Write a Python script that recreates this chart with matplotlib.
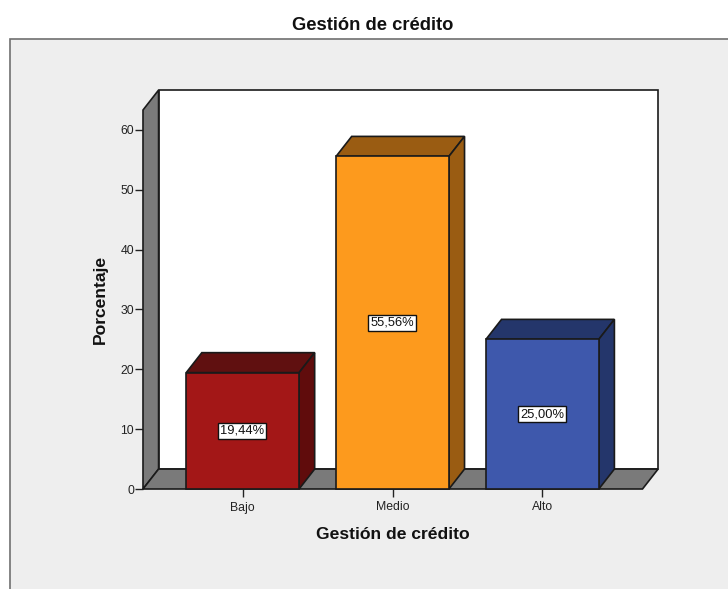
import matplotlib
matplotlib.use("Agg")
import matplotlib.pyplot as plt
from matplotlib.patches import Polygon, Rectangle

plt.rcParams["font.family"] = ["Liberation Sans", "DejaVu Sans"]

categories = ["Bajo", "Medio", "Alto"]
percentages = [19.44, 55.56, 25.00]
value_labels = ["19,44%", "55,56%", "25,00%"]
face_colors = ["#A31717", "#FD9A1D", "#3E58AC"]
top_colors = ["#601010", "#9A5C12", "#24366B"]
side_colors = ["#600C0C", "#9A5C12", "#24366B"]
y_ticks = [0, 10, 20, 30, 40, 50, 60]
title = "Gestión de crédito"
x_title = "Gestión de crédito"
y_title = "Porcentaje"

W, H = 728, 589
fig = plt.figure(figsize=(W / 100, H / 100), dpi=100, facecolor="white")

# Grey chart panel with a dark edge along its top and left sides
panel = Rectangle((9.5 / W, -0.1), 1, 1.1 - 39.5 / H, transform=fig.transFigure,
                  facecolor="#EEEEEE", edgecolor="#707070", linewidth=1.2, zorder=-1)
fig.add_artist(panel)
fig.text(373 / W, 1 - 25 / H, title, ha="center", va="center",
         fontsize=13.2, fontweight="bold", color="#111111")

# Axes span the front plane of the 3D box
left, right, bottom, top = 143, 642.5, 489, 110
ax = fig.add_axes([left / W, 1 - bottom / H, (right - left) / W, (bottom - top) / H])
ax.patch.set_visible(False)
ax.set_xlim(-0.665, 2.668)
ax.set_ylim(0, 63.3)
for spine in ax.spines.values():
    spine.set_visible(False)

# Depth of the box, expressed in data units
dx, dy = 0.104, 3.33
x0, x1 = ax.get_xlim()
y0, y1 = ax.get_ylim()
edge = "#1A1A1A"


def poly(points, color, z, lw=1.2):
    ax.add_patch(Polygon(points, closed=True, facecolor=color, edgecolor=edge,
                         linewidth=lw, joinstyle="miter", zorder=z, clip_on=False))


# Back wall, left wall and floor
poly([(x0 + dx, y0 + dy), (x1 + dx, y0 + dy), (x1 + dx, y1 + dy), (x0 + dx, y1 + dy)], "white", 1)
poly([(x0, y0), (x0 + dx, y0 + dy), (x0 + dx, y1 + dy), (x0, y1)], "#7A7A7A", 2)
poly([(x0, y0), (x1, y0), (x1 + dx, y0 + dy), (x0 + dx, y0 + dy)], "#7A7A7A", 2)

# Bars with their top and side faces
width = 0.753
for i, value in enumerate(percentages):
    a, b = i - width / 2, i + width / 2
    poly([(a, 0), (b, 0), (b, value), (a, value)], face_colors[i], 4)
    poly([(a, value), (b, value), (b + dx, value + dy), (a + dx, value + dy)], top_colors[i], 3)
    poly([(b, 0), (b + dx, dy), (b + dx, value + dy), (b, value)], side_colors[i], 3)
    ax.text(i - 0.003, value / 2, value_labels[i], ha="center", va="center", fontsize=9.3,
            color="#111111", zorder=6,
            bbox=dict(boxstyle="square,pad=0.16", facecolor="white",
                      edgecolor="#111111", linewidth=1))

ax.set_xticks(range(len(categories)), categories)
ax.set_yticks(y_ticks)
ax.tick_params(axis="both", length=5.5, width=1, color="#222222",
               labelsize=8.8, labelcolor="#222222", pad=1)
ax.tick_params(axis="x", pad=3.5)

fig.text(392.5 / W, 1 - 534.5 / H, x_title, ha="center", va="center",
         fontsize=12.6, fontweight="bold", color="#111111")
fig.text(100.5 / W, 1 - 299 / H, y_title, ha="center", va="center", rotation=90,
         fontsize=12.6, fontweight="bold", color="#111111")

fig.savefig("out.png", dpi=100, facecolor="white")
